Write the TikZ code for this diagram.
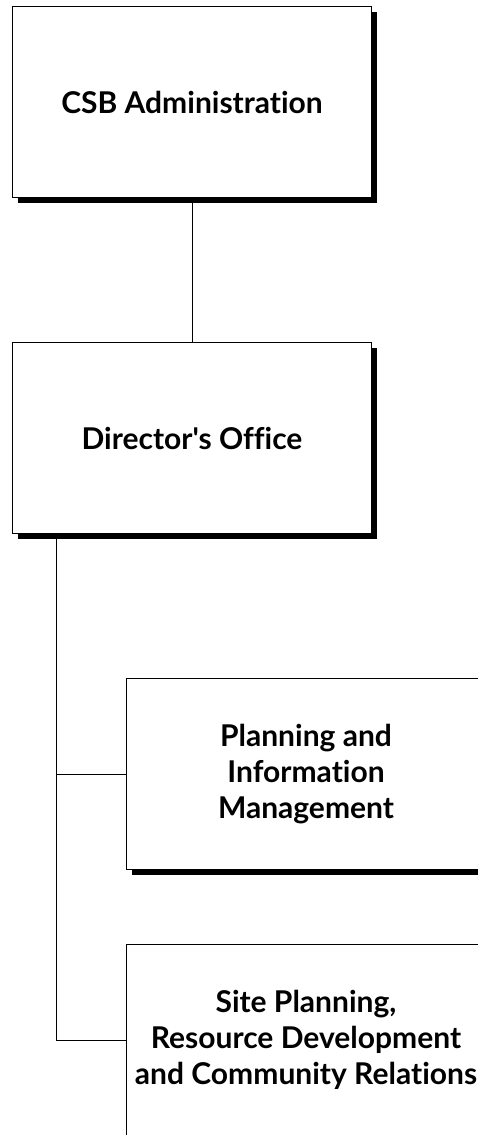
\documentclass[tikz,border=0pt]{standalone}
\usepackage{fontspec}
\newfontfamily\boxfont{Lato}[Ligatures=NoCommon]
\usetikzlibrary{shadows}
\begin{document}
\begin{tikzpicture}[x=1pt,y=-1pt,
  unitbox/.style={draw=black, line width=1pt, fill=white, anchor=north west,
    minimum width=359pt, minimum height=191pt, inner sep=0pt, align=center,
    font=\boxfont\fontsize{30}{36}\selectfont\bfseries,
    general shadow={fill=black, shadow xshift=5pt, shadow yshift=-5pt}},
  link/.style={line width=1pt}]
\useasboundingbox (0,0) rectangle (478,1135);
\node[unitbox] (csb) at (12,6) {CSB Administration};
\node[unitbox] (dir) at (12,342) {Director's Office};
\node[unitbox] (pim) at (126,678) {Planning and\\Information\\Management};
\node[unitbox] (spr) at (126,944) {Site Planning,\\Resource Development\\and Community Relations};
\draw[link] (csb.south) -- (dir.north);
\coordinate (trunk) at (56,533);
\draw[link] (trunk) -- (trunk |- spr.west) -- (spr.west);
\draw[link] (trunk |- pim.west) -- (pim.west);
\end{tikzpicture}
\end{document}
